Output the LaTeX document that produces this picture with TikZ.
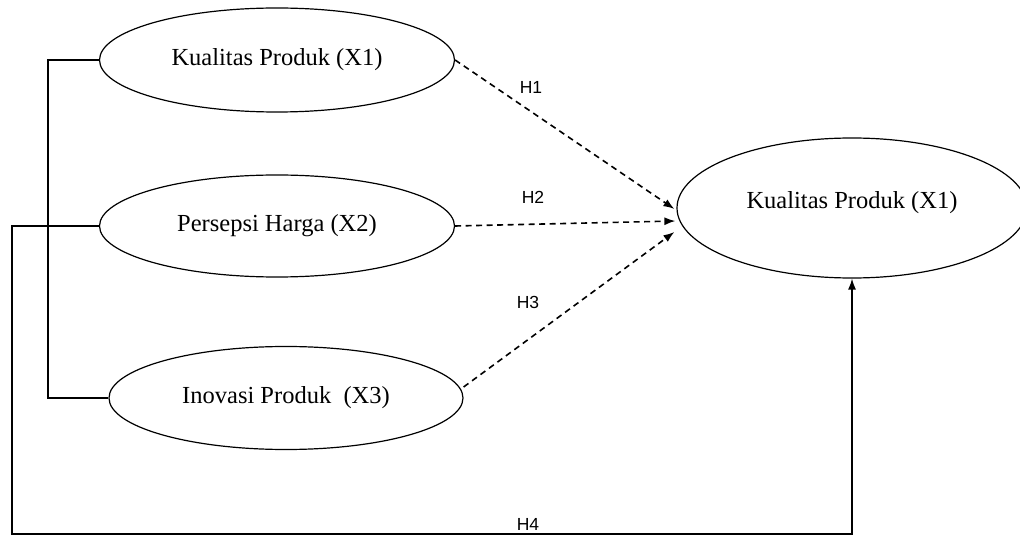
\documentclass[tikz,border=0pt]{standalone}
\usepackage{fontspec}
\setmainfont{Liberation Serif}
\newfontfamily\hfont{Liberation Sans}
\usetikzlibrary{shapes.geometric,arrows.meta}
\begin{document}
\begin{tikzpicture}[x=1pt,y=-1pt,
  var/.style={draw,ellipse,line width=1.2pt,inner sep=0pt,font=\fontsize{24.5}{28}\selectfont},
  conn/.style={line width=1.4pt},
  tip/.style={-{Latex[length=11pt,width=8pt]}},
  hyp/.style={line width=1.6pt,dash pattern=on 6pt off 4.5pt,tip},
  lbl/.style={font=\hfont\fontsize{17.5}{20}\selectfont,inner sep=0pt}]
\useasboundingbox (0,0) rectangle (1020,537);
\node[var,minimum width=355pt,minimum height=104pt] (x1) at (277,60) {Kualitas Produk (X1)};
\node[var,minimum width=355pt,minimum height=102pt] (x2) at (277,226) {Persepsi Harga (X2)};
\node[var,minimum width=354pt,minimum height=103pt] (x3) at (286,398) {Inovasi Produk\ \ (X3)};
\node[var,minimum width=350pt,minimum height=140pt,text depth=16pt] (y) at (852,208) {Kualitas Produk (X1)};
\coordinate (a) at (48,60);
\coordinate (b) at (12,226);
\coordinate (c) at (12,534);
\coordinate (d) at (y.south |- c);
% bracket joining X1 and X3
\draw[conn] (x1.west) -- (a) |- (x3.west);
% X2 line to Y (H4)
\draw[conn,tip] (x2.west) -- (b) -- (c) -- (d) -- (y.south);
% dashed hypotheses
\draw[hyp] (x1.east) -- ([xshift=-2pt,yshift=-1pt]y.west);
\draw[hyp] (x2.east) -- ([xshift=-1pt,yshift=-13pt]y.west);
\draw[hyp] ([yshift=11pt]x3.east) -- ([xshift=-2pt,yshift=-24pt]y.west);
\node[lbl] (h1) at (531,87) {H1};
\node[lbl] (h2) at (533,197) {H2};
\node[lbl] (h3) at (528,302) {H3};
\node[lbl] (h4) at (528,524) {H4};
\end{tikzpicture}
\end{document}
